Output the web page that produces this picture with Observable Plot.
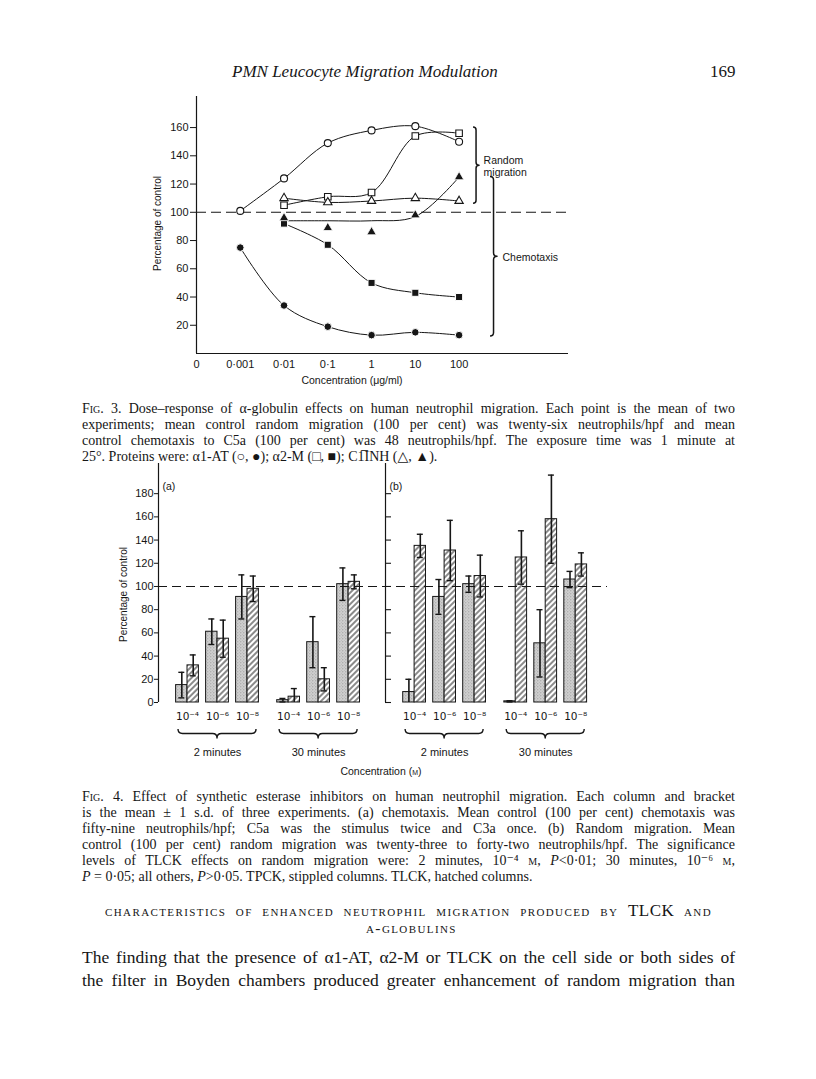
<!DOCTYPE html>
<html><head><meta charset="utf-8">
<script src="https://cdn.jsdelivr.net/npm/d3@7"></script>
<script src="https://cdn.jsdelivr.net/npm/@observablehq/plot@0.6"></script>
<style>
body{margin:0;background:#fff;}
#page{position:relative;width:816px;height:1079px;overflow:hidden;font-family:"Liberation Serif","DejaVu Serif",serif;color:#161616;}
.t{position:absolute;white-space:nowrap;}
.cap{position:absolute;left:82px;width:653px;font-size:14px;line-height:15px;white-space:nowrap;text-align:justify;text-align-last:justify;}
.cap.last{text-align:left;text-align-last:left;}
.sc{font-variant:small-caps;}
.body{position:absolute;left:82px;width:653px;font-size:17.5px;line-height:20px;white-space:nowrap;text-align:justify;text-align-last:justify;}
.ax{position:absolute;font-family:"Liberation Sans","DejaVu Sans",sans-serif;font-size:10px;white-space:nowrap;text-align:center;}
.fig{position:absolute;left:0;}
</style>
</head><body>
<div id="page">
  <div class="t" style="left:232px;top:62px;font-size:17px;line-height:20px;font-style:italic;">PMN Leucocyte Migration Modulation</div>
  <div class="t" style="left:710px;top:62px;font-size:17px;line-height:20px;">169</div>

  <div id="fig3" class="fig" style="top:90px;"></div>
  <div class="ax" style="left:97px;top:218px;width:120px;transform:rotate(-90deg);">Percentage of control</div>
  <div class="ax" style="left:282px;top:374px;width:140px;font-size:10.5px;">Concentration (μg/ml)</div>

  <div class="cap" style="top:401px;"><span class="sc">Fig</span>. 3. Dose–response of α-globulin effects on human neutrophil migration. Each point is the mean of two</div>
  <div class="cap" style="top:417px;">experiments; mean control random migration (100 per cent) was twenty-six neutrophils/hpf and mean</div>
  <div class="cap" style="top:433px;">control chemotaxis to C5a (100 per cent) was 48 neutrophils/hpf. The exposure time was 1 minute at</div>
  <div class="cap last" style="top:449px;">25°. Proteins were: α1-AT (○, ●); α2-M (□, ■); C1̅INH (△, ▲).</div>

  <div id="fig4" class="fig" style="top:455px;"></div>
  <div class="ax" style="left:63px;top:589px;width:120px;transform:rotate(-90deg);">Percentage of control</div>
  <div class="ax" style="left:311px;top:765px;width:140px;font-size:10.5px;">Concentration (<span class="sc">m</span>)</div>

  <div class="cap" style="top:789px;"><span class="sc">Fig</span>. 4. Effect of synthetic esterase inhibitors on human neutrophil migration. Each column and bracket</div>
  <div class="cap" style="top:805px;">is the mean ± 1 s.d. of three experiments. (a) chemotaxis. Mean control (100 per cent) chemotaxis was</div>
  <div class="cap" style="top:821px;">fifty-nine neutrophils/hpf; C5a was the stimulus twice and C3a once. (b) Random migration. Mean</div>
  <div class="cap" style="top:837px;">control (100 per cent) random migration was twenty-three to forty-two neutrophils/hpf. The significance</div>
  <div class="cap" style="top:853px;">levels of TLCK effects on random migration were: 2 minutes, 10⁻⁴ <span class="sc">m</span>, <i>P</i>&lt;0·01; 30 minutes, 10⁻⁶ <span class="sc">m</span>,</div>
  <div class="cap last" style="top:869px;"><i>P</i> = 0·05; all others, <i>P</i>&gt;0·05. TPCK, stippled columns. TLCK, hatched columns.</div>

  <div class="cap" style="top:903px;left:105px;width:607px;font-size:15.5px;letter-spacing:1.4px;"><span class="sc">characteristics of enhanced neutrophil migration produced by</span> <span style="font-size:17px;letter-spacing:0.5px;">TLCK</span> <span class="sc">and</span></div>
  <div class="t" style="top:920px;left:366px;font-size:15.5px;line-height:15px;letter-spacing:1.4px;"><span class="sc">α-globulins</span></div>

  <div class="body" style="top:947px;">The finding that the presence of α1-AT, α2-M or TLCK on the cell side or both sides of</div>
  <div class="body" style="top:970px;">the filter in Boyden chambers produced greater enhancement of random migration than</div>
</div>

<script>
// ---------------- Fig. 3 data ----------------
const fig3Conc = [0.001, 0.01, 0.1, 1, 10, 100];
const fig3TickValues = [0.0001, 0.001, 0.01, 0.1, 1, 10, 100];
const fig3TickLabels = ["0", "0·001", "0·01", "0·1", "1", "10", "100"];
const fig3YTicks = [20, 40, 60, 80, 100, 120, 140, 160];
const a1atRandom = [101, 124, 149, 158, 161, 150];
const a1atChemo = [75, 34, 19, 13, 15, 13];
const a2mRandom = [null, 105, 111, 114, 154, 156];
const a2mChemo = [null, 92, 77, 50, 43, 40];
const c1inhRandom = [null, 110, 107, 108, 110, 108];
const c1inhChemo = [null, 96, 89, 86, 98, 125];
const c1inhChemoFitted = [null, 94, 94, 94, 97, 125];
const fig3Braces = [
  {label: "Random\nmigration", x: 214, y1: 106, y2: 160},
  {label: "Chemotaxis", x: 523, y1: 12, y2: 125}
];

// ---------------- Fig. 4 data ----------------
const fig4Panels = ["(a)", "(b)"];
const fig4Times = ["2 minutes", "30 minutes"];
const fig4Concs = ["10⁻⁴", "10⁻⁶", "10⁻⁸"];
const fig4YTicks = [0, 20, 40, 60, 80, 100, 120, 140, 160, 180];
// order within a panel: 2 min (10-4, 10-6, 10-8), 30 min (10-4, 10-6, 10-8)
const chemoTPCK = [15, 61, 91, 2, 52, 102];
const chemoTPCKsd = [11, 11, 19, 1.5, 22, 14];
const chemoTLCK = [32, 55, 98, 5, 20, 104];
const chemoTLCKsd = [9, 16, 11, 7, 10, 6];
const randomTPCK = [9, 91, 102, 1, 51, 106];
const randomTPCKsd = [11, 15, 7, 0.5, 29, 7];
const randomTLCK = [135, 131, 109, 125, 158, 119];
const randomTLCKsd = [10, 26, 18, 23, 38, 10];

// ---------------- helpers ----------------
function findScales(args) {
  return args.find(a => a && typeof a === "object" && !Array.isArray(a) && typeof a.x === "function" && typeof a.y === "function");
}
function pathMark(build, strokeWidth) {
  return function(...args) {
    const scales = findScales(args);
    const g = document.createElementNS("http://www.w3.org/2000/svg", "g");
    const p = document.createElementNS("http://www.w3.org/2000/svg", "path");
    p.setAttribute("d", build(scales));
    p.setAttribute("fill", "none");
    p.setAttribute("stroke", "#161616");
    p.setAttribute("stroke-width", strokeWidth);
    p.setAttribute("stroke-linejoin", "round");
    g.appendChild(p);
    return g;
  };
}
function vBrace(x, ya, yb, w) {
  const r = w / 2, ym = (ya + yb) / 2;
  return `M${x},${ya}Q${x + r},${ya} ${x + r},${ya + r}L${x + r},${ym - r}Q${x + r},${ym} ${x + w},${ym}Q${x + r},${ym} ${x + r},${ym + r}L${x + r},${yb - r}Q${x + r},${yb} ${x},${yb}`;
}
function hBrace(xa, xb, y, d) {
  const r = d / 2, xm = (xa + xb) / 2;
  return `M${xa},${y}Q${xa},${y + r} ${xa + r},${y + r}L${xm - r},${y + r}Q${xm},${y + r} ${xm},${y + d}Q${xm},${y + r} ${xm + r},${y + r}L${xb - r},${y + r}Q${xb},${y + r} ${xb},${y}`;
}

// ---------------- Fig. 3 ----------------
const labelOf = new Map(fig3TickValues.map((v, i) => [v, fig3TickLabels[i]]));
const toRows = arr => arr.map((v, i) => ({conc: fig3Conc[i], value: v})).filter(d => d.value != null);
const lineStyle = {x: "conc", y: "value", curve: "catmull-rom", stroke: "#161616", strokeWidth: 1};
const fig3 = Plot.plot({
  width: 816, height: 303,
  marginLeft: 196, marginRight: 248, marginTop: 6, marginBottom: 40,
  style: {fontFamily: "Liberation Sans, DejaVu Sans, sans-serif", fontSize: "11px", color: "#161616", background: "transparent"},
  x: {type: "log", domain: [0.0001, Math.pow(10, 4.5)], ticks: fig3TickValues, tickFormat: d => labelOf.get(d) ?? "", tickSize: 0, tickPadding: 7, label: null},
  y: {domain: [0, 182], ticks: fig3YTicks, tickSize: 6, tickPadding: 2, label: null},
  marks: [
    Plot.ruleY([0], {stroke: "#161616", strokeWidth: 1.2}),
    Plot.ruleX([0.0001], {stroke: "#161616", strokeWidth: 1.2}),
    Plot.ruleY([100], {stroke: "#161616", strokeWidth: 1.1, strokeDasharray: "10,5"}),
    Plot.line(toRows(a1atRandom), lineStyle),
    Plot.line(toRows(a1atChemo), lineStyle),
    Plot.line(toRows(a2mRandom), lineStyle),
    Plot.line(toRows(a2mChemo), lineStyle),
    Plot.line(toRows(c1inhRandom), lineStyle),
    Plot.line(toRows(c1inhChemoFitted), lineStyle),
    Plot.dot(toRows(a1atRandom), {x: "conc", y: "value", symbol: "circle", r: 3.5, fill: "white", stroke: "#161616", strokeWidth: 1.1}),
    Plot.dot(toRows(a2mRandom), {x: "conc", y: "value", symbol: "square", r: 3.7, fill: "white", stroke: "#161616", strokeWidth: 1.1}),
    Plot.dot(toRows(c1inhRandom), {x: "conc", y: "value", symbol: "triangle", r: 3.1, fill: "white", stroke: "#161616", strokeWidth: 1.1}),
    Plot.dot(toRows(a1atChemo), {x: "conc", y: "value", symbol: "circle", r: 3.8, fill: "#161616", stroke: "white", strokeWidth: 1}),
    Plot.dot(toRows(a2mChemo), {x: "conc", y: "value", symbol: "square", r: 4, fill: "#161616", stroke: "white", strokeWidth: 1}),
    Plot.dot(toRows(c1inhChemo), {x: "conc", y: "value", symbol: "triangle", r: 3.5, fill: "#161616", stroke: "white", strokeWidth: 0.8}),
    pathMark(s => fig3Braces.map((b, i) => vBrace(s.x(b.x), s.y(b.y2), s.y(b.y1), i === 0 ? 6 : 7)).join(""), 1.5),
    Plot.text(fig3Braces.slice(0, 1), {x: "x", y: d => (d.y1 + d.y2) / 2, text: "label", dx: 10, textAnchor: "start", lineHeight: 1.15, fontSize: 10.5}),
    Plot.text(fig3Braces.slice(1), {x: "x", y: d => (d.y1 + d.y2) / 2, text: "label", dx: 12, textAnchor: "start", lineHeight: 1.15, fontSize: 10.5}),
  ]
});
document.getElementById("fig3").appendChild(fig3);

// ---------------- Fig. 4 ----------------
const SLOT_PANEL = 7.57, SLOT_TIME = 3.37, BAR_W = 0.38;
const fig4Series = [
  {panel: 0, type: "TPCK", mean: chemoTPCK, sd: chemoTPCKsd},
  {panel: 0, type: "TLCK", mean: chemoTLCK, sd: chemoTLCKsd},
  {panel: 1, type: "TPCK", mean: randomTPCK, sd: randomTPCKsd},
  {panel: 1, type: "TLCK", mean: randomTLCK, sd: randomTLCKsd}
];
const bars = fig4Series.flatMap(s => s.mean.map((m, i) => {
  const t = Math.floor(i / 3), c = i % 3;
  const center = s.panel * SLOT_PANEL + t * SLOT_TIME + c;
  const x1 = s.type === "TPCK" ? center - BAR_W : center;
  const x2 = s.type === "TPCK" ? center : center + BAR_W;
  return {panel: s.panel, type: s.type, x1, x2, xc: (x1 + x2) / 2, mean: m, sd: s.sd[i]};
}));
const groups = [0, 1].flatMap(p => [0, 1].flatMap(t => [0, 1, 2].map(c => ({p, t, c, center: p * SLOT_PANEL + t * SLOT_TIME + c, label: fig4Concs[c]}))));
const timeGroups = [0, 1].flatMap(p => [0, 1].map(t => ({p, t, center: p * SLOT_PANEL + t * SLOT_TIME + 1, label: fig4Times[t]})));
const panelAxes = [{x: -0.967, label: fig4Panels[0]}, {x: 6.6, label: fig4Panels[1]}];

const fig4 = Plot.plot({
  width: 816, height: 335,
  marginLeft: 158, marginRight: 209, marginTop: 8, marginBottom: 88,
  style: {fontFamily: "Liberation Sans, DejaVu Sans, sans-serif", fontSize: "11px", color: "#161616", background: "transparent"},
  x: {domain: [-0.967, 14], axis: null},
  y: {domain: [0, 206], ticks: fig4YTicks, tickSize: 4, tickPadding: 1, label: null},
  marks: [
    Plot.ruleX(panelAxes, {x: "x", y1: 0, y2: 206, stroke: "#161616", strokeWidth: 1.2}),
    Plot.ruleY(fig4YTicks, {y: d => d, x1: panelAxes[1].x, x2: panelAxes[1].x + 0.2, stroke: "#161616", strokeWidth: 1.1}),
    Plot.text(panelAxes, {x: "x", y: 180, text: "label", textAnchor: "start", dx: 4, dy: -7, fontSize: 10.5}),
    Plot.rect(bars.filter(d => d.type === "TPCK"), {x1: "x1", x2: "x2", y1: 0, y2: "mean", fill: "url(#stipple)", stroke: "#161616", strokeWidth: 1}),
    Plot.rect(bars.filter(d => d.type === "TLCK"), {x1: "x1", x2: "x2", y1: 0, y2: "mean", fill: "url(#hatch)", stroke: "#161616", strokeWidth: 1}),
    Plot.ruleY([100], {stroke: "#161616", strokeWidth: 1.1, strokeDasharray: "9,5"}),
    Plot.ruleX(bars, {x: "xc", y1: d => Math.max(0, d.mean - d.sd), y2: d => d.mean + d.sd, stroke: "#161616", strokeWidth: 1.6}),
    Plot.ruleY(bars, {y: d => d.mean + d.sd, x1: d => d.xc - 0.1, x2: d => d.xc + 0.1, stroke: "#161616", strokeWidth: 1.4}),
    Plot.ruleY(bars.filter(d => d.mean - d.sd > 0), {y: d => d.mean - d.sd, x1: d => d.xc - 0.1, x2: d => d.xc + 0.1, stroke: "#161616", strokeWidth: 1.4}),
    Plot.text(groups, {x: "center", y: 0, text: "label", dy: 14, fontSize: 10.5, fontFamily: "DejaVu Sans, sans-serif"}),
    pathMark(s => timeGroups.map(g => hBrace(s.x(g.center - 1.3), s.x(g.center + 1.3), s.y(0) + 27, 9)).join(""), 1.4),
    Plot.text(timeGroups, {x: "center", y: 0, text: "label", dy: 50, fontSize: 11}),
  ]
});
const defs = d3.select(fig4).insert("defs", ":first-child");
const hatch = defs.append("pattern").attr("id", "hatch").attr("patternUnits", "userSpaceOnUse")
  .attr("width", 4).attr("height", 4).attr("patternTransform", "rotate(45)");
hatch.append("rect").attr("width", 4).attr("height", 4).attr("fill", "white");
hatch.append("line").attr("x1", 1).attr("y1", 0).attr("x2", 1).attr("y2", 4).attr("stroke", "#161616").attr("stroke-width", 1);
const stip = defs.append("pattern").attr("id", "stipple").attr("patternUnits", "userSpaceOnUse").attr("width", 3).attr("height", 3);
stip.append("rect").attr("width", 3).attr("height", 3).attr("fill", "#cfcfcf");
stip.append("circle").attr("cx", 0.8).attr("cy", 0.8).attr("r", 0.55).attr("fill", "#8a8a8a");
stip.append("circle").attr("cx", 2.3).attr("cy", 2.2).attr("r", 0.45).attr("fill", "#a5a5a5");
document.getElementById("fig4").appendChild(fig4);
</script>
</body></html>
